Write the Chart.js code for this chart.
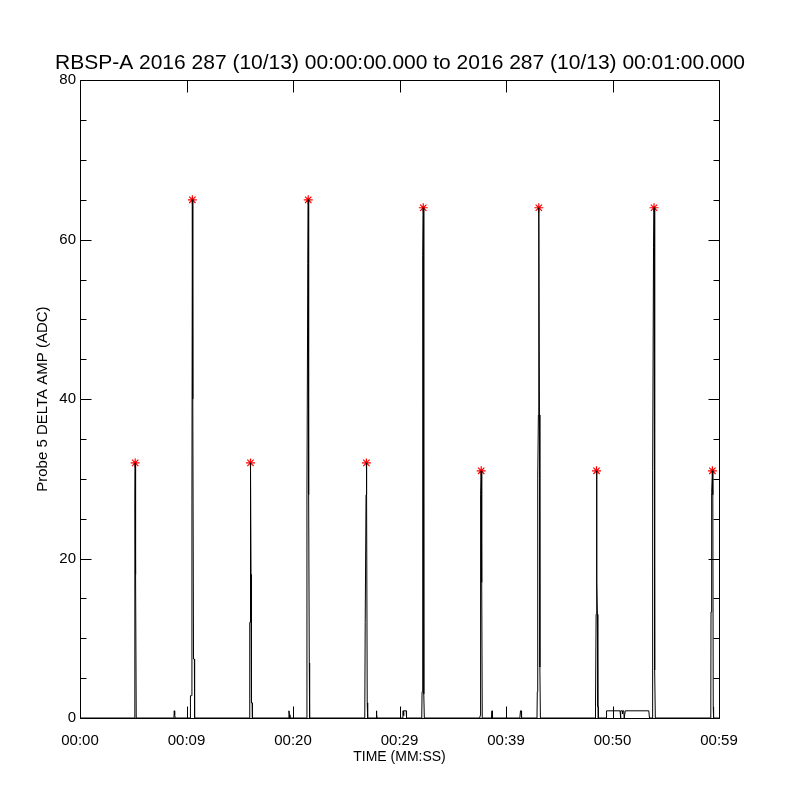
<!DOCTYPE html>
<html><head><meta charset="utf-8">
<script src="https://cdn.jsdelivr.net/npm/chart.js@4"></script>
<style>html,body{margin:0;padding:0;background:#fff}#wrap{width:800px;height:800px}</style>
</head><body><div id="wrap"><canvas id="c" width="800" height="800"></canvas></div>
<script>
const chartTitle = 'RBSP-A 2016 287 (10/13) 00:00:00.000 to 2016 287 (10/13) 00:01:00.000';
const xAxisTitle = 'TIME (MM:SS)';
const yAxisTitle = 'Probe 5 DELTA AMP (ADC)';
const xTickLabels = ['00:00','00:09','00:20','00:29','00:39','00:50','00:59'];

const timeSec = [
  0,
  5.12, 5.15, 5.18, 5.22, 5.28,
  8.82, 8.85, 8.89, 8.94,
  10.34, 10.37, 10.47, 10.51, 10.55, 10.59, 10.66, 10.74, 10.76,
  15.92, 15.94, 15.98, 16.01, 16.06, 16.10, 16.17, 16.19,
  19.54, 19.62, 19.67, 19.71,
  21.29, 21.31, 21.39, 21.43, 21.47, 21.53, 21.56,
  26.74, 26.78, 26.83, 26.86, 26.89, 26.93, 26.97, 27.00, 27.02,
  27.80, 27.83, 27.87, 27.90,
  30.29, 30.32, 30.37, 30.39, 30.41, 30.63, 30.66,
  32.09, 32.12, 32.16, 32.20, 32.23, 32.28, 32.33,
  37.54, 37.57, 37.60, 37.63, 37.67, 37.72, 37.77,
  38.60, 38.62, 38.67, 38.69, 38.72,
  41.30, 41.36, 41.42, 41.46,
  42.91, 42.94, 42.98, 43.04, 43.08, 43.14, 43.18, 43.23,
  48.37, 48.38, 48.43, 48.46, 48.50, 48.54, 48.58, 48.62, 48.66, 48.67,
  49.42, 49.44, 50.71, 50.75, 50.79, 50.92, 50.94, 50.97, 51.06, 51.10, 51.17, 51.20, 53.41, 53.47,
  53.73, 53.76, 53.78, 53.85, 53.90, 53.94, 53.98, 54.02,
  59.23, 59.25, 59.31, 59.38, 59.42, 59.46, 59.48, 59.50,
  60
];
const ampAdc = [
  0,
  0, 27, 32, 18, 0,
  0, 0.9, 0.4, 0,
  0, 2.8, 2.8, 27, 65, 40, 7.4, 7.4, 0,
  0, 12, 12, 32, 18, 1.9, 1.9, 0,
  0, 0.9, 0.4, 0,
  0, 28, 57, 65, 28, 6.9, 0,
  0, 12, 12, 28, 32, 28, 1.9, 1.9, 0,
  0, 0.9, 0.4, 0,
  0, 0.9, 0.9, 0.3, 0.9, 0.9, 0,
  0, 3.3, 39, 58, 64, 3, 0,
  0, 0.3, 17, 28, 31, 17, 0,
  0, 0.4, 0.4, 0.9, 0,
  0, 0.9, 0.9, 0,
  0, 3.3, 30, 38, 64, 38, 6.4, 0,
  0, 1.4, 1.4, 13, 31, 17, 13, 1.4, 1.4, 0,
  0, 0.9, 0.9, 0, 0.9, 0.9, 0.5, 0.9, 0.9, 0, 0, 0.9, 0.9, 0,
  0, 0.3, 31, 59, 64, 31, 6, 0,
  0, 13.3, 28.3, 31, 28, 1.4, 1.4, 0,
  0
];
const peakTimeSec = [5.18, 10.55, 16.01, 21.43, 26.89, 32.23, 37.67, 43.08, 48.50, 53.90, 59.38];
const peakAmpAdc  = [32, 65, 32, 65, 32, 64, 31, 64, 31, 64, 31];

const FONT = 'Liberation Sans';

const frameTicks = {
  id: 'frameTicks',
  afterDatasetsDraw(chart) {
    const {ctx, chartArea: {left, right, top, bottom}, scales: {x, y}} = chart;
    ctx.save();
    ctx.strokeStyle = '#000';
    ctx.lineWidth = 1;
    ctx.beginPath();
    const l = Math.round(left) + 0.5, r = Math.round(right) + 0.5, t = Math.round(top) + 0.5, b = Math.round(bottom) + 0.5;
    ctx.rect(l, t, r - l, b - t);
    x.ticks.forEach(tk => {
      const px = Math.round(x.getPixelForValue(tk.value)) + 0.5;
      ctx.moveTo(px, b); ctx.lineTo(px, b - 12);
      ctx.moveTo(px, t); ctx.lineTo(px, t + 12);
    });
    y.ticks.forEach(tk => {
      const py = Math.round(y.getPixelForValue(tk.value)) + 0.5;
      const L = tk.value % 20 === 0 ? 11 : 6;
      ctx.moveTo(l, py); ctx.lineTo(l + L, py);
      ctx.moveTo(r, py); ctx.lineTo(r - L, py);
    });
    ctx.stroke();
    ctx.restore();
  }
};

new Chart(document.getElementById('c'), {
  type: 'line',
  data: {
    datasets: [
      {
        data: timeSec.map((t, i) => ({x: t, y: ampAdc[i]})),
        borderColor: '#000',
        borderWidth: 1,
        pointRadius: 0,
        tension: 0,
        fill: false
      },
      {
        type: 'scatter',
        data: peakTimeSec.map((t, i) => ({x: t, y: peakAmpAdc[i]})),
        showLine: false,
        pointStyle: 'star',
        pointRadius: 4.5,
        borderColor: '#ff0000',
        backgroundColor: '#ff0000',
        pointBorderWidth: 1.2,
        borderWidth: 1.2
      }
    ]
  },
  options: {
    responsive: false,
    devicePixelRatio: 1,
    animation: false,
    layout: {padding: 0},
    plugins: {
      legend: {display: false},
      tooltip: {enabled: false},
      title: {
        display: true,
        text: chartTitle,
        color: '#000',
        font: {family: FONT, size: 21, weight: 'normal'},
        padding: {top: 51, bottom: 4}
      }
    },
    scales: {
      x: {
        type: 'linear',
        min: 0, max: 60,
        grid: {display: false, drawTicks: false},
        border: {display: false},
        ticks: {
          stepSize: 10, autoSkip: false, maxRotation: 0, padding: 14,
          color: '#000', font: {family: FONT, size: 15},
          callback: (v, i) => xTickLabels[i]
        },
        title: {display: true, text: xAxisTitle, color: '#000', font: {family: FONT, size: 14}, padding: {top: 0, bottom: 34}},
        afterFit: s => { s.height = 82; }
      },
      y: {
        min: 0, max: 80,
        grid: {display: false, drawTicks: false},
        border: {display: false},
        ticks: {
          stepSize: 5, autoSkip: false, padding: 4,
          color: '#000', font: {family: FONT, size: 15},
          callback: v => (v % 20 === 0 ? String(v) : '')
        },
        title: {display: true, text: yAxisTitle, color: '#000', font: {family: FONT, size: 15}, padding: {top: 34, bottom: 0}},
        afterFit: s => { s.width = 80; }
      },
      yRight: {
        position: 'right',
        min: 0, max: 80,
        grid: {display: false, drawTicks: false},
        border: {display: false},
        ticks: {display: false},
        afterFit: s => { s.width = 81; }
      }
    }
  },
  plugins: [frameTicks]
});
</script>
</body></html>
